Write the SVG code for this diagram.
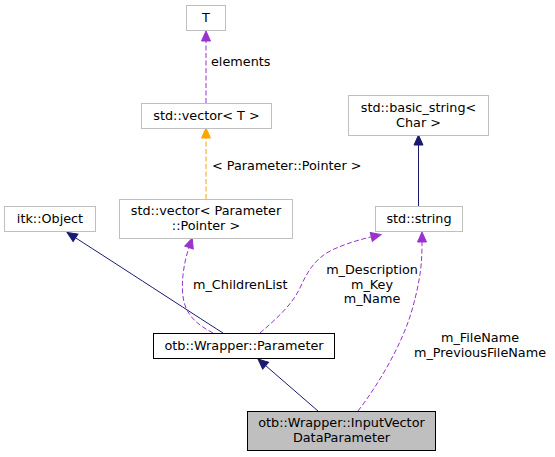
<svg xmlns="http://www.w3.org/2000/svg" width="555" height="457" viewBox="0 0 555 457">
<style>
text{font-family:"DejaVu Sans","Liberation Sans",sans-serif;font-size:12.8px;fill:#000}
.c{text-anchor:middle}
.ext{fill:#fff;stroke:#bfbfbf;stroke-width:1}
.doc{fill:#fff;stroke:#000;stroke-width:1}
.cur{fill:#bfbfbf;stroke:#000;stroke-width:1}
.e{fill:none;stroke-width:1}
.navy{stroke:#191970}
.purple{stroke:#9a32cd;stroke-dasharray:5,2.5}
.orange{stroke:#ffa500;stroke-dasharray:5,2.5}
</style>
<defs>
<marker id="aNavy" markerUnits="userSpaceOnUse" markerWidth="12" markerHeight="10" refX="0" refY="4.5" orient="auto" overflow="visible"><path d="M0,0 L10,4.5 L0,9 z" fill="#191970" stroke="#191970"/></marker>
<marker id="aPurple" markerUnits="userSpaceOnUse" markerWidth="12" markerHeight="10" refX="0" refY="4.5" orient="auto" overflow="visible"><path d="M0,0 L10,4.5 L0,9 z" fill="#9a32cd" stroke="#9a32cd"/></marker>
<marker id="aOrange" markerUnits="userSpaceOnUse" markerWidth="12" markerHeight="10" refX="0" refY="4.5" orient="auto" overflow="visible"><path d="M0,0 L10,4.5 L0,9 z" fill="#ffa500" stroke="#ffa500"/></marker>
</defs>
<rect width="555" height="457" fill="#fff"/>
<g id="edges">
<path class="e purple" d="M206,103 L206,41" marker-end="url(#aPurple)"/>
<text x="211" y="66">elements</text>
<path class="e orange" d="M206,199 L206,138" marker-end="url(#aOrange)"/>
<text x="212" y="170">&lt; Parameter::Pointer &gt;</text>
<path class="e navy" d="M418.5,206 L418.5,145" marker-end="url(#aNavy)"/>
<path class="e navy" d="M223,333 C190,312 118,265 75.5,237.8" marker-end="url(#aNavy)"/>
<path class="e purple" d="M213,333 C200,326 188,318 184,302 C180,285 184,262 189,247.5" marker-end="url(#aPurple)"/>
<text x="193" y="289">m_ChildrenList</text>
<path class="e purple" d="M260,333 C275,320 292,305 300,288 C308,270 316,258 332,250 C345,244 358,240 371.3,236.9" marker-end="url(#aPurple)"/>
<text class="c" x="372" y="274">m_Description</text>
<text class="c" x="372" y="288.5">m_Key</text>
<text class="c" x="372" y="303">m_Name</text>
<path class="e navy" d="M318,411 L265.6,365.6" marker-end="url(#aNavy)"/>
<path class="e purple" d="M358,411 C378,385 402,345 412,310 C421,278 422,262 422,242" marker-end="url(#aPurple)"/>
<text class="c" x="480" y="342">m_FileName</text>
<text class="c" x="480" y="356.5">m_PreviousFileName</text>
</g>
<g id="node-T">
<rect class="ext" x="186.5" y="5.5" width="39" height="25"/>
<text class="c" x="206" y="22">T</text>
</g>
<g id="node-vectorT">
<rect class="ext" x="141.5" y="103.5" width="130" height="25"/>
<text class="c" x="206.5" y="120">std::vector&lt; T &gt;</text>
</g>
<g id="node-basic_string">
<rect class="ext" x="348.5" y="95.5" width="140" height="40"/>
<text class="c" x="418.5" y="112">std::basic_string&lt;</text>
<text class="c" x="418.5" y="126.5">Char &gt;</text>
</g>
<g id="node-itkObject">
<rect class="ext" x="4.5" y="206.5" width="91" height="25"/>
<text class="c" x="50" y="223">itk::Object</text>
</g>
<g id="node-vectorParam">
<rect class="ext" x="119.5" y="199.5" width="173" height="39"/>
<text class="c" x="206" y="215">std::vector&lt; Parameter</text>
<text class="c" x="206" y="230">::Pointer &gt;</text>
</g>
<g id="node-string">
<rect class="ext" x="375.5" y="206.5" width="87" height="25"/>
<text class="c" x="419" y="223">std::string</text>
</g>
<g id="node-Parameter">
<rect class="doc" x="153.5" y="333.5" width="181" height="25"/>
<text class="c" x="244" y="350">otb::Wrapper::Parameter</text>
</g>
<g id="node-InputVectorDataParameter">
<rect class="cur" x="247.5" y="411.5" width="188" height="39"/>
<text class="c" x="341.5" y="427">otb::Wrapper::InputVector</text>
<text class="c" x="341.5" y="442">DataParameter</text>
</g>
</svg>
